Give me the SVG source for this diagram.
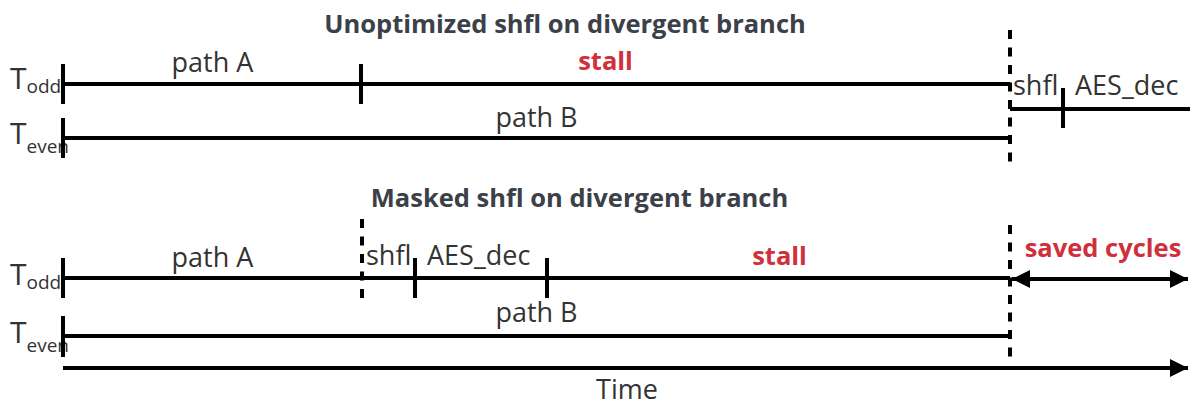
<svg xmlns="http://www.w3.org/2000/svg" width="1190" height="405" viewBox="0 0 1190 405">
  <defs>
    <style>
      .title { font-family: "Open Sans", "Liberation Sans", sans-serif; font-weight: 700; font-size: 25.5px; fill: #3b4049; text-anchor: middle; }
      .lbl { font-family: "Open Sans", "Liberation Sans", sans-serif; font-size: 27px; fill: #333333; }
      .mid { text-anchor: middle; }
      .red { font-family: "Open Sans", "Liberation Sans", sans-serif; font-weight: 700; font-size: 25.5px; fill: #d0303c; text-anchor: middle; }
      .thr { font-family: "Open Sans", "Liberation Sans", sans-serif; font-size: 30px; fill: #333333; }
      .sub { font-size: 19px; }
      .line { stroke: #000; stroke-width: 4; fill: none; }
      .tick { stroke: #000; stroke-width: 4; }
      .dash { stroke: #000; stroke-width: 4; stroke-dasharray: 9 8.5; fill: none; }
    </style>
    <marker id="head" viewBox="0 0 10 10" refX="10" refY="5" markerWidth="6.8" markerHeight="4.5" markerUnits="strokeWidth" orient="auto-start-reverse">
      <path d="M0,0 L10,5 L0,10 Z" fill="#000"/>
    </marker>
  </defs>
  <rect width="1190" height="405" fill="#ffffff"/>

  <!-- upper scenario: unoptimized shuffle -->
  <g id="title-unoptimized">
    <text class="title" x="565" y="33">Unoptimized shfl on divergent branch</text>
  </g>
  <g id="top-odd-label">
    <text class="thr" x="10" y="89">T<tspan class="sub" dy="4">odd</tspan></text>
  </g>
  <g id="top-even-label">
    <text class="thr" x="10" y="144">T<tspan class="sub" dy="9">even</tspan></text>
  </g>
  <g id="top-odd-line">
    <line class="line" x1="63" y1="84" x2="1010" y2="84"/>
    <line class="tick" x1="63" y1="64" x2="63" y2="104"/>
    <line class="tick" x1="361" y1="64" x2="361" y2="104"/>
    <text class="lbl mid" x="212.5" y="72">path A</text>
    <text class="red" x="605.5" y="70">stall</text>
  </g>
  <g id="top-even-line">
    <line class="line" x1="63" y1="138" x2="1010" y2="138"/>
    <line class="tick" x1="63" y1="118" x2="63" y2="158"/>
    <text class="lbl mid" x="536.5" y="127">path B</text>
  </g>
  <g id="top-reconverged">
    <line class="line" x1="1010" y1="109" x2="1190" y2="109"/>
    <line class="tick" x1="1063" y1="88" x2="1063" y2="128"/>
    <text class="lbl" x="1013" y="95">shfl</text>
    <text class="lbl" x="1075" y="95">AES_dec</text>
  </g>

  <!-- lower scenario: masked shuffle -->
  <g id="title-masked">
    <text class="title" x="579.5" y="207">Masked shfl on divergent branch</text>
  </g>
  <g id="bottom-odd-label">
    <text class="thr" x="10" y="285">T<tspan class="sub" dy="4">odd</tspan></text>
  </g>
  <g id="bottom-even-label">
    <text class="thr" x="10" y="343">T<tspan class="sub" dy="9">even</tspan></text>
  </g>
  <g id="bottom-odd-line">
    <line class="line" x1="63" y1="278" x2="1010" y2="278"/>
    <line class="tick" x1="63" y1="258" x2="63" y2="298"/>
    <line class="tick" x1="415" y1="258" x2="415" y2="298"/>
    <line class="tick" x1="547" y1="258" x2="547" y2="298"/>
    <text class="lbl mid" x="212.5" y="267">path A</text>
    <text class="lbl" x="366" y="265">shfl</text>
    <text class="lbl" x="427" y="265">AES_dec</text>
    <text class="red" x="779.5" y="265">stall</text>
  </g>
  <g id="bottom-even-line">
    <line class="line" x1="63" y1="336" x2="1010" y2="336"/>
    <line class="tick" x1="63" y1="316" x2="63" y2="357"/>
    <text class="lbl mid" x="536.5" y="322">path B</text>
  </g>
  <g id="saved-cycles">
    <text class="red" x="1103" y="257">saved cycles</text>
  </g>
  <g id="time-label">
    <text class="lbl mid" x="627" y="399">Time</text>
  </g>

  <!-- connectors: sync barriers, saved span and time axis -->
  <g id="connectors">
    <line class="dash" x1="1010" y1="30" x2="1010" y2="165"/>
    <line class="dash" x1="362" y1="219" x2="362" y2="301"/>
    <line class="dash" x1="1010" y1="225" x2="1010" y2="361"/>
    <line class="line" x1="1012" y1="279" x2="1188" y2="279" marker-start="url(#head)" marker-end="url(#head)"/>
    <line class="line" x1="63" y1="368" x2="1188" y2="368" marker-end="url(#head)"/>
  </g>
</svg>
